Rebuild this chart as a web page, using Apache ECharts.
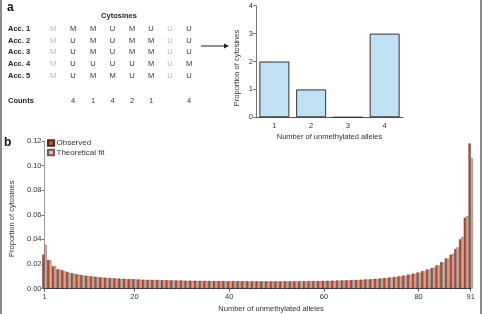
<!DOCTYPE html>
<html>
<head>
<meta charset="utf-8">
<script src="https://cdn.jsdelivr.net/npm/echarts@6/dist/echarts.min.js"></script>
<style>
html,body{margin:0;padding:0;background:#fff;}
#chart{width:483px;height:314px;}
</style>
</head>
<body>
<div id="chart"></div>
<script>
// ---- Panel a: table ----
var tableTitle = 'Cytosines';
var rowLabels = ['Acc. 1', 'Acc. 2', 'Acc. 3', 'Acc. 4', 'Acc. 5'];
var tableRows = [
  ['M','M','M','U','M','U','U','U'],
  ['M','U','M','U','M','M','U','U'],
  ['M','U','M','U','M','M','U','U'],
  ['M','U','U','U','U','M','U','M'],
  ['M','U','M','M','U','M','U','U']
];
var countsLabel = 'Counts';
var counts = ['', '4', '1', '4', '2', '1', '', '4'];
var greyColumns = [0, 6];

// ---- Panel a: bar chart ----
var aCategories = ['1', '2', '3', '4'];
var aValues = [2, 1, 0, 3];

// ---- Panel b ----
var alleles = [];
for (var i = 1; i <= 91; i++) alleles.push(i);
var observed = [
  0.0275, 0.0232, 0.0180, 0.0156, 0.0148, 0.0135, 0.0124, 0.0116, 0.0110, 0.0104,
  0.0099, 0.0095, 0.0091, 0.0088, 0.0086, 0.0084, 0.0081, 0.0079, 0.0077, 0.0076,
  0.0074, 0.0072, 0.0071, 0.0070, 0.0069, 0.0068, 0.0067, 0.0066, 0.0066, 0.0065,
  0.0064, 0.0064, 0.0063, 0.0063, 0.0062, 0.0062, 0.0061, 0.0061, 0.0061, 0.0060,
  0.0060, 0.0060, 0.0059, 0.0059, 0.0059, 0.0059, 0.0058, 0.0058, 0.0058, 0.0058,
  0.0058, 0.0058, 0.0059, 0.0059, 0.0059, 0.0060, 0.0060, 0.0061, 0.0061, 0.0062,
  0.0063, 0.0064, 0.0065, 0.0066, 0.0067, 0.0069, 0.0070, 0.0072, 0.0074, 0.0076,
  0.0079, 0.0082, 0.0085, 0.0089, 0.0094, 0.0100, 0.0106, 0.0113, 0.0121, 0.0130,
  0.0142, 0.0155, 0.0167, 0.0188, 0.0214, 0.0245, 0.0275, 0.0320, 0.0400, 0.0575,
  0.1180
];
var theoretical = [
  0.0355, 0.0230, 0.0183, 0.0154, 0.0140, 0.0129, 0.0120, 0.0112, 0.0106, 0.0101,
  0.0097, 0.0093, 0.0089, 0.0086, 0.0084, 0.0081, 0.0079, 0.0077, 0.0076, 0.0074,
  0.0073, 0.0071, 0.0070, 0.0069, 0.0068, 0.0067, 0.0066, 0.0065, 0.0065, 0.0064,
  0.0063, 0.0063, 0.0062, 0.0062, 0.0061, 0.0061, 0.0060, 0.0060, 0.0060, 0.0059,
  0.0059, 0.0059, 0.0059, 0.0058, 0.0058, 0.0058, 0.0058, 0.0058, 0.0058, 0.0058,
  0.0058, 0.0058, 0.0058, 0.0059, 0.0059, 0.0059, 0.0060, 0.0060, 0.0061, 0.0061,
  0.0062, 0.0063, 0.0064, 0.0065, 0.0066, 0.0068, 0.0069, 0.0071, 0.0073, 0.0075,
  0.0078, 0.0081, 0.0084, 0.0088, 0.0092, 0.0097, 0.0103, 0.0110, 0.0118, 0.0128,
  0.0140, 0.0153, 0.0168, 0.0187, 0.0211, 0.0242, 0.0282, 0.0335, 0.0420, 0.0590,
  0.1060
];
var bXTicks = [1, 20, 40, 60, 80, 91];

var FONT = '"Liberation Sans", Arial, Helvetica, sans-serif';
var chart = echarts.init(document.getElementById('chart'), null, {renderer: 'canvas'});

// graphic elements: panel letters, table, arrow, frame
var graphics = [];
var colX = [53, 73, 93, 112.5, 132, 151, 170, 189];
var rowY = [29, 40.7, 52.3, 64, 75.7];
graphics.push({type: 'text', x: 7, y: 7.5, style: {text: 'a', font: 'bold 12px ' + FONT, fill: '#111', verticalAlign: 'middle'}});
graphics.push({type: 'text', x: 4, y: 142.5, style: {text: 'b', font: 'bold 12px ' + FONT, fill: '#111', verticalAlign: 'middle'}});
graphics.push({type: 'text', x: 119, y: 15.7, style: {text: tableTitle, font: 'bold 7.5px ' + FONT, fill: '#222', align: 'center', verticalAlign: 'middle'}});
rowLabels.forEach(function (lab, r) {
  graphics.push({type: 'text', x: 8, y: rowY[r], style: {text: lab, font: 'bold 7.5px ' + FONT, fill: '#222', align: 'left', verticalAlign: 'middle'}});
  tableRows[r].forEach(function (v, c) {
    graphics.push({type: 'text', x: colX[c], y: rowY[r], style: {text: v, font: '7.5px ' + FONT, fill: greyColumns.indexOf(c) >= 0 ? '#b4b4b4' : '#333', align: 'center', verticalAlign: 'middle'}});
  });
});
graphics.push({type: 'text', x: 8, y: 101, style: {text: countsLabel, font: 'bold 7.5px ' + FONT, fill: '#222', align: 'left', verticalAlign: 'middle'}});
counts.forEach(function (v, c) {
  graphics.push({type: 'text', x: colX[c], y: 101, style: {text: v, font: '7.5px ' + FONT, fill: '#333', align: 'center', verticalAlign: 'middle'}});
});
graphics.push({type: 'line', shape: {x1: 201, y1: 46, x2: 225, y2: 46}, style: {stroke: '#222', lineWidth: 1}});
graphics.push({type: 'polygon', shape: {points: [[224, 43.5], [229, 46], [224, 48.5]]}, style: {fill: '#222'}});
graphics.push({type: 'line', shape: {x1: 1, y1: 0, x2: 1, y2: 314}, style: {stroke: '#8a8a8a', lineWidth: 2}});
graphics.push({type: 'line', shape: {x1: 481, y1: 0, x2: 481, y2: 314}, style: {stroke: '#8a8a8a', lineWidth: 2}});

var axisText = {color: '#333', fontSize: 7.5, fontFamily: FONT};
var titleText = {fontSize: 7.5, color: '#333', fontFamily: FONT};

chart.setOption({
  animation: false,
  backgroundColor: '#fff',
  textStyle: {fontFamily: FONT},
  graphic: graphics,
  legend: {
    data: ['Observed', 'Theoretical fit'],
    orient: 'vertical',
    left: 47, top: 138.5,
    padding: 0,
    itemWidth: 6, itemHeight: 5.5, itemGap: 0.5,
    icon: 'rect',
    textStyle: {fontSize: 8, lineHeight: 9, color: '#333', fontFamily: FONT, padding: [0, 0, 0, -2.5]}
  },
  grid: [
    {left: 256, top: 5.7, width: 147, height: 111.6, containLabel: false},
    {left: 43.3, top: 141, right: 12.3, bottom: 25.5, containLabel: false}
  ],
  xAxis: [
    {
      gridIndex: 0, type: 'category', data: aCategories,
      axisLine: {lineStyle: {color: '#555', width: 1}},
      axisTick: {show: false},
      axisLabel: Object.assign({margin: 5}, axisText),
      name: 'Number of unmethylated alleles', nameLocation: 'middle', nameGap: 16,
      nameTextStyle: titleText
    },
    {
      gridIndex: 1, type: 'value', min: 1, max: 91,
      axisLine: {onZero: false, lineStyle: {color: '#222', width: 1}},
      axisTick: {show: true, length: 3, inside: false, customValues: bXTicks, lineStyle: {color: '#555'}},
      axisLabel: Object.assign({margin: 4, customValues: bXTicks}, axisText),
      splitLine: {show: false},
      name: 'Number of unmethylated alleles', nameLocation: 'middle', nameGap: 16,
      nameTextStyle: Object.assign({padding: [0, 0, 0, 27]}, titleText)
    }
  ],
  yAxis: [
    {
      gridIndex: 0, type: 'value', min: 0, max: 4, interval: 1,
      axisLine: {show: true, lineStyle: {color: '#777', width: 1}},
      axisTick: {show: true, length: 3, lineStyle: {color: '#777'}},
      axisLabel: Object.assign({margin: 3}, axisText),
      splitLine: {show: false},
      name: 'Proportion of cytosines', nameLocation: 'middle', nameGap: 15,
      nameTextStyle: Object.assign({padding: [0, 13, 0, 0]}, titleText)
    },
    {
      gridIndex: 1, type: 'value', min: 0, max: 0.12, interval: 0.02,
      axisLine: {show: true, lineStyle: {color: '#999', width: 1}},
      axisTick: {show: true, length: 3, lineStyle: {color: '#777'}},
      axisLabel: Object.assign({margin: 3, formatter: function (v) { return v.toFixed(2); }}, axisText),
      splitLine: {show: false},
      name: 'Proportion of cytosines', nameLocation: 'middle', nameGap: 25,
      nameTextStyle: Object.assign({padding: [0, 8, 0, 0]}, titleText)
    }
  ],
  series: [
    {
      type: 'bar', xAxisIndex: 0, yAxisIndex: 0,
      data: aValues, barWidth: 30,
      itemStyle: {color: '#bfe1f3', borderColor: '#333', borderWidth: 1}
    },
    {
      name: 'Observed', type: 'bar', xAxisIndex: 1, yAxisIndex: 1,
      data: alleles.map(function (a, i) { return [a, observed[i]]; }),
      barWidth: 2.2, barGap: '0%', clip: false,
      itemStyle: {color: '#c0513a', borderColor: '#5a2418', borderWidth: 0.5}
    },
    {
      name: 'Theoretical fit', type: 'bar', xAxisIndex: 1, yAxisIndex: 1,
      data: alleles.map(function (a, i) { return [a, theoretical[i]]; }),
      barWidth: 2.2, barGap: '0%', clip: false,
      itemStyle: {color: '#e9b5a2', borderColor: '#6e5a54', borderWidth: 0.5}
    }
  ]
});
</script>
</body>
</html>
